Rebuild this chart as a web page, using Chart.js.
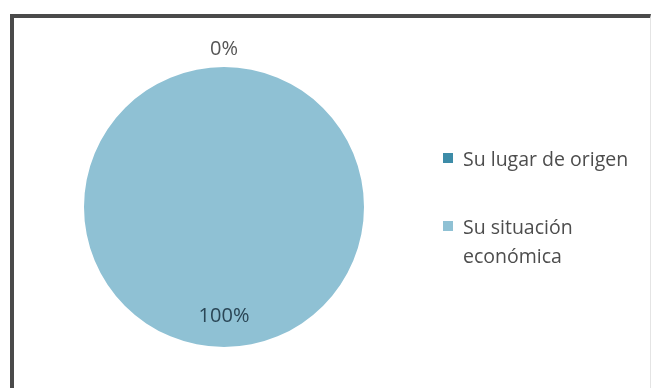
<!DOCTYPE html>
<html>
<head>
<meta charset="utf-8">
<script src="https://cdn.jsdelivr.net/npm/chart.js@4/dist/chart.umd.min.js"></script>
<style>
    html, body { margin: 0; padding: 0; background: #fff; }
    body { width: 658px; height: 388px; position: relative; overflow: hidden; font-family: "Open Sans", sans-serif; }
    .marco {
        position: absolute; left: 10px; top: 14px; width: 636px; height: 400px;
        border-left: 4px solid #4a4a4a; border-top: 4px solid #4a4a4a;
        border-right: 1px solid #e4e4e4;
        filter: blur(0.6px);
    }
    .grafico { position: absolute; left: 0; top: 0; width: 420px; height: 388px; }
    .leyenda { position: absolute; left: 443px; top: 0; color: #4d4d4d; font-size: 19.5px; line-height: 29px; filter: blur(0.4px); }
    .leyenda .item { position: absolute; left: 0; width: 200px; }
    .leyenda .cuadro { position: absolute; left: 0; top: 9px; width: 10px; height: 10px; }
    .leyenda .texto { position: absolute; left: 20px; top: 0; width: 180px; }
</style>
</head>
<body>
<div class="marco"></div>
<div class="grafico"><canvas id="tortaOrigen"></canvas></div>
<div class="leyenda" id="leyenda"></div>
<script>
    const categorias = ["Su lugar de origen", "Su situación económica"];
    const porcentajes = [0, 100];
    const colores = ["#3d8ca8", "#8fc1d4"];
    const coloresEtiqueta = ["#555555", "#2a4656"];
    // vertical offset of each legend entry
    const posLeyenda = [144, 212];

    const etiquetas = {
        id: "etiquetasPorcentaje",
        afterDatasetsDraw(chart) {
            const { ctx } = chart;
            const meta = chart.getDatasetMeta(0);
            ctx.save();
            ctx.textAlign = "center";
            ctx.textBaseline = "middle";
            ctx.font = "20px 'Open Sans', sans-serif";
            meta.data.forEach((arc, i) => {
                const props = arc.getProps(["x", "y", "startAngle", "endAngle", "outerRadius"], true);
                const medio = (props.startAngle + props.endAngle) / 2;
                const valor = porcentajes[i];
                // empty slices get their label outside the pie
                const r = valor === 0 ? props.outerRadius + 18 : props.outerRadius * 0.78;
                ctx.fillStyle = coloresEtiqueta[i];
                ctx.fillText(valor + "%", props.x + Math.cos(medio) * r, props.y + Math.sin(medio) * r);
            });
            ctx.restore();
        }
    };

    new Chart(document.getElementById("tortaOrigen"), {
        type: "pie",
        data: {
            labels: categorias,
            datasets: [{
                data: porcentajes,
                backgroundColor: colores,
                borderWidth: 0
            }]
        },
        options: {
            responsive: true,
            maintainAspectRatio: false,
            animation: false,
            layout: { padding: { left: 84, right: 56, top: 67, bottom: 41 } },
            plugins: {
                legend: { display: false },
                tooltip: { enabled: false }
            }
        },
        plugins: [etiquetas]
    });

    const leyenda = document.getElementById("leyenda");
    categorias.forEach((nombre, i) => {
        const item = document.createElement("div");
        item.className = "item";
        item.style.top = posLeyenda[i] + "px";
        item.innerHTML = `<span class="cuadro" style="background:${colores[i]}"></span><span class="texto">${nombre}</span>`;
        leyenda.appendChild(item);
    });
</script>
</body>
</html>
